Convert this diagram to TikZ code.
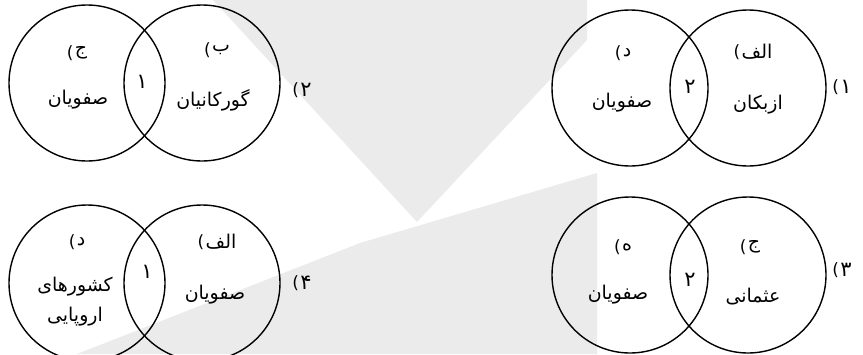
\documentclass[tikz,border=0pt]{standalone}
\usepackage{fontspec}
\newfontfamily\arabicfont[Script=Arabic]{DejaVu Sans}
\newfontfamily\parenfont{DejaVu Sans}
\TeXXeTstate=1
\usetikzlibrary{positioning}
\definecolor{wmgray}{HTML}{EBEBEB}
\newcommand\fa[1]{{\arabicfont\beginR #1\endR}}
\tikzset{
    x=1bp, y=-1bp,
    ring/.style = {circle, draw, line width=1.4bp, minimum size=156bp, inner sep=0pt, node contents={}},
    lbl/.style = {inner sep=1pt, font=\arabicfont\fontsize{19}{30}\selectfont, align=center},
    num/.style = {lbl, font=\arabicfont\fontsize{21}{24}\selectfont},
    par/.style = {inner sep=0pt, font=\parenfont\fontsize{17}{20}\selectfont, node contents={(}}
}
\begin{document}
\begin{tikzpicture}
    \useasboundingbox (0,0) rectangle (863,354);
    % background shapes
    \fill[wmgray] (213,0) -- (417,222) -- (587,40) -- (587,0) -- cycle;
    \fill[wmgray] (77,354) -- (360,243) -- (597,173) -- (597,354) -- cycle;

    % 1)
    \node (d1) at (630,88) [ring];
    \node (alef1) at (748,88) [ring];
    \node[lbl] (d1t) at (627,53) {\fa{د}};
    \node (d1p) [par, left=0bp of d1t];
    \node[lbl] (d1s) at (622,103) {\fa{صفویان}};
    \node[lbl] (alef1t) at (757,52) {\fa{الف}};
    \node (alef1p) [par, left=0bp of alef1t];
    \node[lbl] (alef1s) at (758,105) {\fa{ازبکان}};
    \node[num] (mid1) at (690,87) {\fa{۲}};
    \node[num] (opt1) at (846,87) {\fa{۱}};
    \node (opt1p) [par, left=0bp of opt1];

    % 2)
    \node (jim2) at (87,83) [ring];
    \node (be2) at (202,83) [ring];
    \node[lbl] (jim2t) at (81,53) {\fa{ج}};
    \node (jim2p) [par, left=0bp of jim2t];
    \node[lbl] (jim2s) at (78,100) {\fa{صفویان}};
    \node[lbl] (be2t) at (221,50) {\fa{ب}};
    \node (be2p) [par, left=0bp of be2t];
    \node[lbl] (be2s) at (213,100) {\fa{گورکانیان}};
    \node[num] (mid2) at (142,82) {\fa{۱}};
    \node[num] (opt2) at (306,90) {\fa{۲}};
    \node (opt2p) [par, left=0bp of opt2];

    % 3)
    \node (he3) at (630,275) [ring];
    \node (jim3) at (748,275) [ring];
    \node[lbl] (he3t) at (627,247) {\fa{ه}};
    \node (he3p) [par, left=0bp of he3t];
    \node[lbl] (he3s) at (618,295) {\fa{صفویان}};
    \node[lbl] (jim3t) at (754,247) {\fa{ج}};
    \node (jim3p) [par, left=0bp of jim3t];
    \node[lbl] (jim3s) at (753,297) {\fa{عثمانی}};
    \node[num] (mid3) at (690,280) {\fa{۲}};
    \node[num] (opt3) at (846,270) {\fa{۳}};
    \node (opt3p) [par, left=0bp of opt3];

    % 4)
    \node (d4) at (87,283) [ring];
    \node (alef4) at (202,283) [ring];
    \node[lbl] (d4t) at (81,242) {\fa{د}};
    \node (d4p) [par, left=0bp of d4t];
    \node[lbl] (d4s) at (75,302) {\fa{کشورهای}\\\fa{اروپایی}};
    \node[lbl] (alef4t) at (221,242) {\fa{الف}};
    \node (alef4p) [par, left=0bp of alef4t];
    \node[lbl] (alef4s) at (215,295) {\fa{صفویان}};
    \node[num] (mid4) at (147,272) {\fa{۱}};
    \node[num] (opt4) at (306,283) {\fa{۴}};
    \node (opt4p) [par, left=0bp of opt4];
\end{tikzpicture}
\end{document}
